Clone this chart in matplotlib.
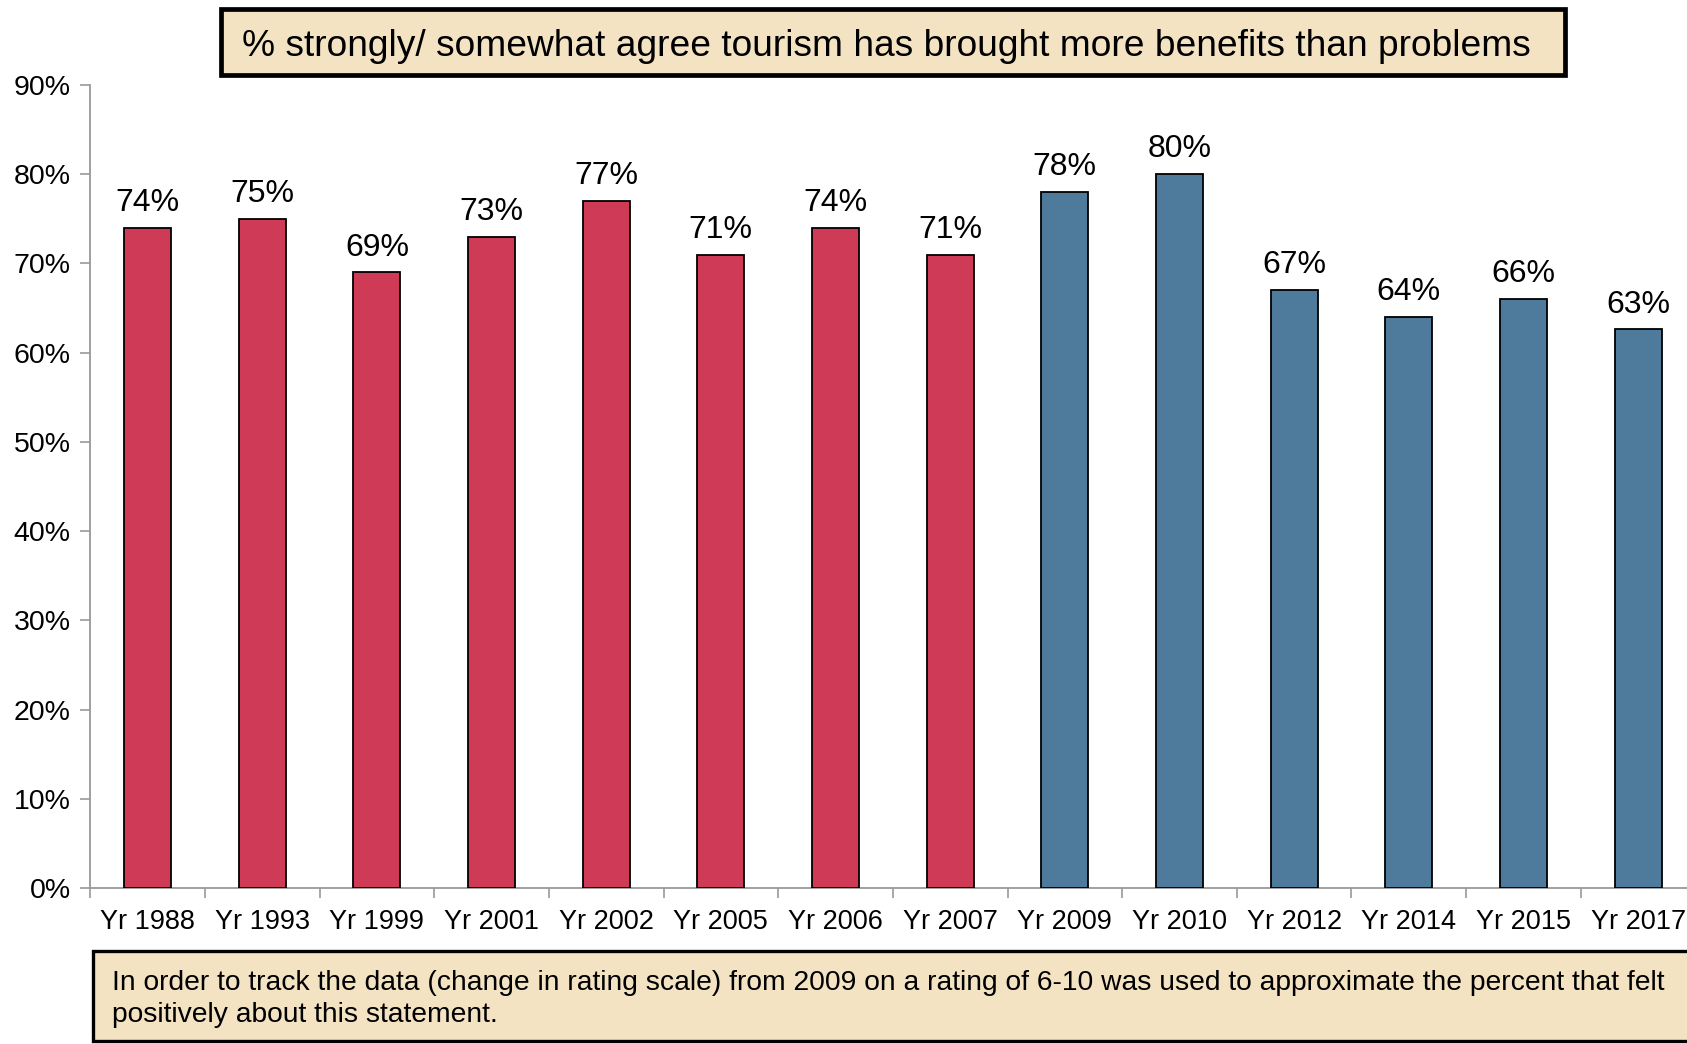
import matplotlib.pyplot as plt
from matplotlib.patches import Rectangle

# chart data
years = ["Yr 1988", "Yr 1993", "Yr 1999", "Yr 2001", "Yr 2002", "Yr 2005", "Yr 2006",
         "Yr 2007", "Yr 2009", "Yr 2010", "Yr 2012", "Yr 2014", "Yr 2015", "Yr 2017"]
values = [74, 75, 69, 73, 77, 71, 74, 71, 78, 80, 67, 64, 66, 62.6]
labels = ["74%", "75%", "69%", "73%", "77%", "71%", "74%", "71%", "78%", "80%",
          "67%", "64%", "66%", "63%"]
old_scale = [True] * 8 + [False] * 6

title = "% strongly/ somewhat agree tourism has brought more benefits than problems"
note = ("In order to track the data (change in rating scale) from 2009 on a rating of 6-10 "
        "was used to approximate the percent that felt\npositively about this statement.")

red = "#cf3b56"
blue = "#4e7b9b"
box_fill = "#f3e3c3"

plt.rcParams['font.family'] = ['Liberation Sans', 'DejaVu Sans']

fig = plt.figure(figsize=(16.87, 10.44), dpi=100)
ax = fig.add_axes([0.0535, 0.1494, 1.005 - 0.0535, 0.9186 - 0.1494])

x = list(range(len(years)))
colors = [red if o else blue for o in old_scale]
bars = ax.bar(x, values, width=0.41, color=colors, edgecolor="black", linewidth=1.3, zorder=3)

for b, lab in zip(bars, labels):
    ax.annotate(lab, (b.get_x() + b.get_width() / 2, b.get_height()),
                xytext=(0, 7), textcoords="offset points",
                ha="center", va="bottom", fontsize=23)

ax.set_xlim(-0.5, len(years) - 0.5)
ax.set_ylim(0, 90)
ax.set_yticks(range(0, 91, 10))
ax.set_yticklabels([f"{v}%" for v in range(0, 91, 10)], fontsize=20.5)
ax.set_xticks(x)
ax.set_xticklabels(years, fontsize=19.5)
ax.set_xticks([i + 0.5 for i in range(-1, len(years))], minor=True)
ax.tick_params(axis="x", which="major", length=0, pad=15)
ax.tick_params(axis="x", which="minor", length=7, color="#999999", width=1.2)
ax.tick_params(axis="y", length=7, color="#999999", width=1.2, pad=7)

for s in ["top", "right"]:
    ax.spines[s].set_visible(False)
for s in ["left", "bottom"]:
    ax.spines[s].set_color("#999999")
    ax.spines[s].set_linewidth(1.3)

# title box
fig.patches.append(Rectangle((0.131, 0.9282), 0.7967, 0.0632, transform=fig.transFigure,
                             facecolor=box_fill, edgecolor="black", linewidth=3.4))
fig.text(0.5252, 0.9557, title, ha="center", va="center", fontsize=26.7)

# note box
fig.patches.append(Rectangle((0.0551, 0.0029), 1.0, 0.0862, transform=fig.transFigure,
                             facecolor=box_fill, edgecolor="black", linewidth=2.4))
fig.text(0.0664, 0.0435, note, ha="left", va="center", fontsize=20.3, linespacing=1.3)

fig.savefig("out.png", dpi=100)
